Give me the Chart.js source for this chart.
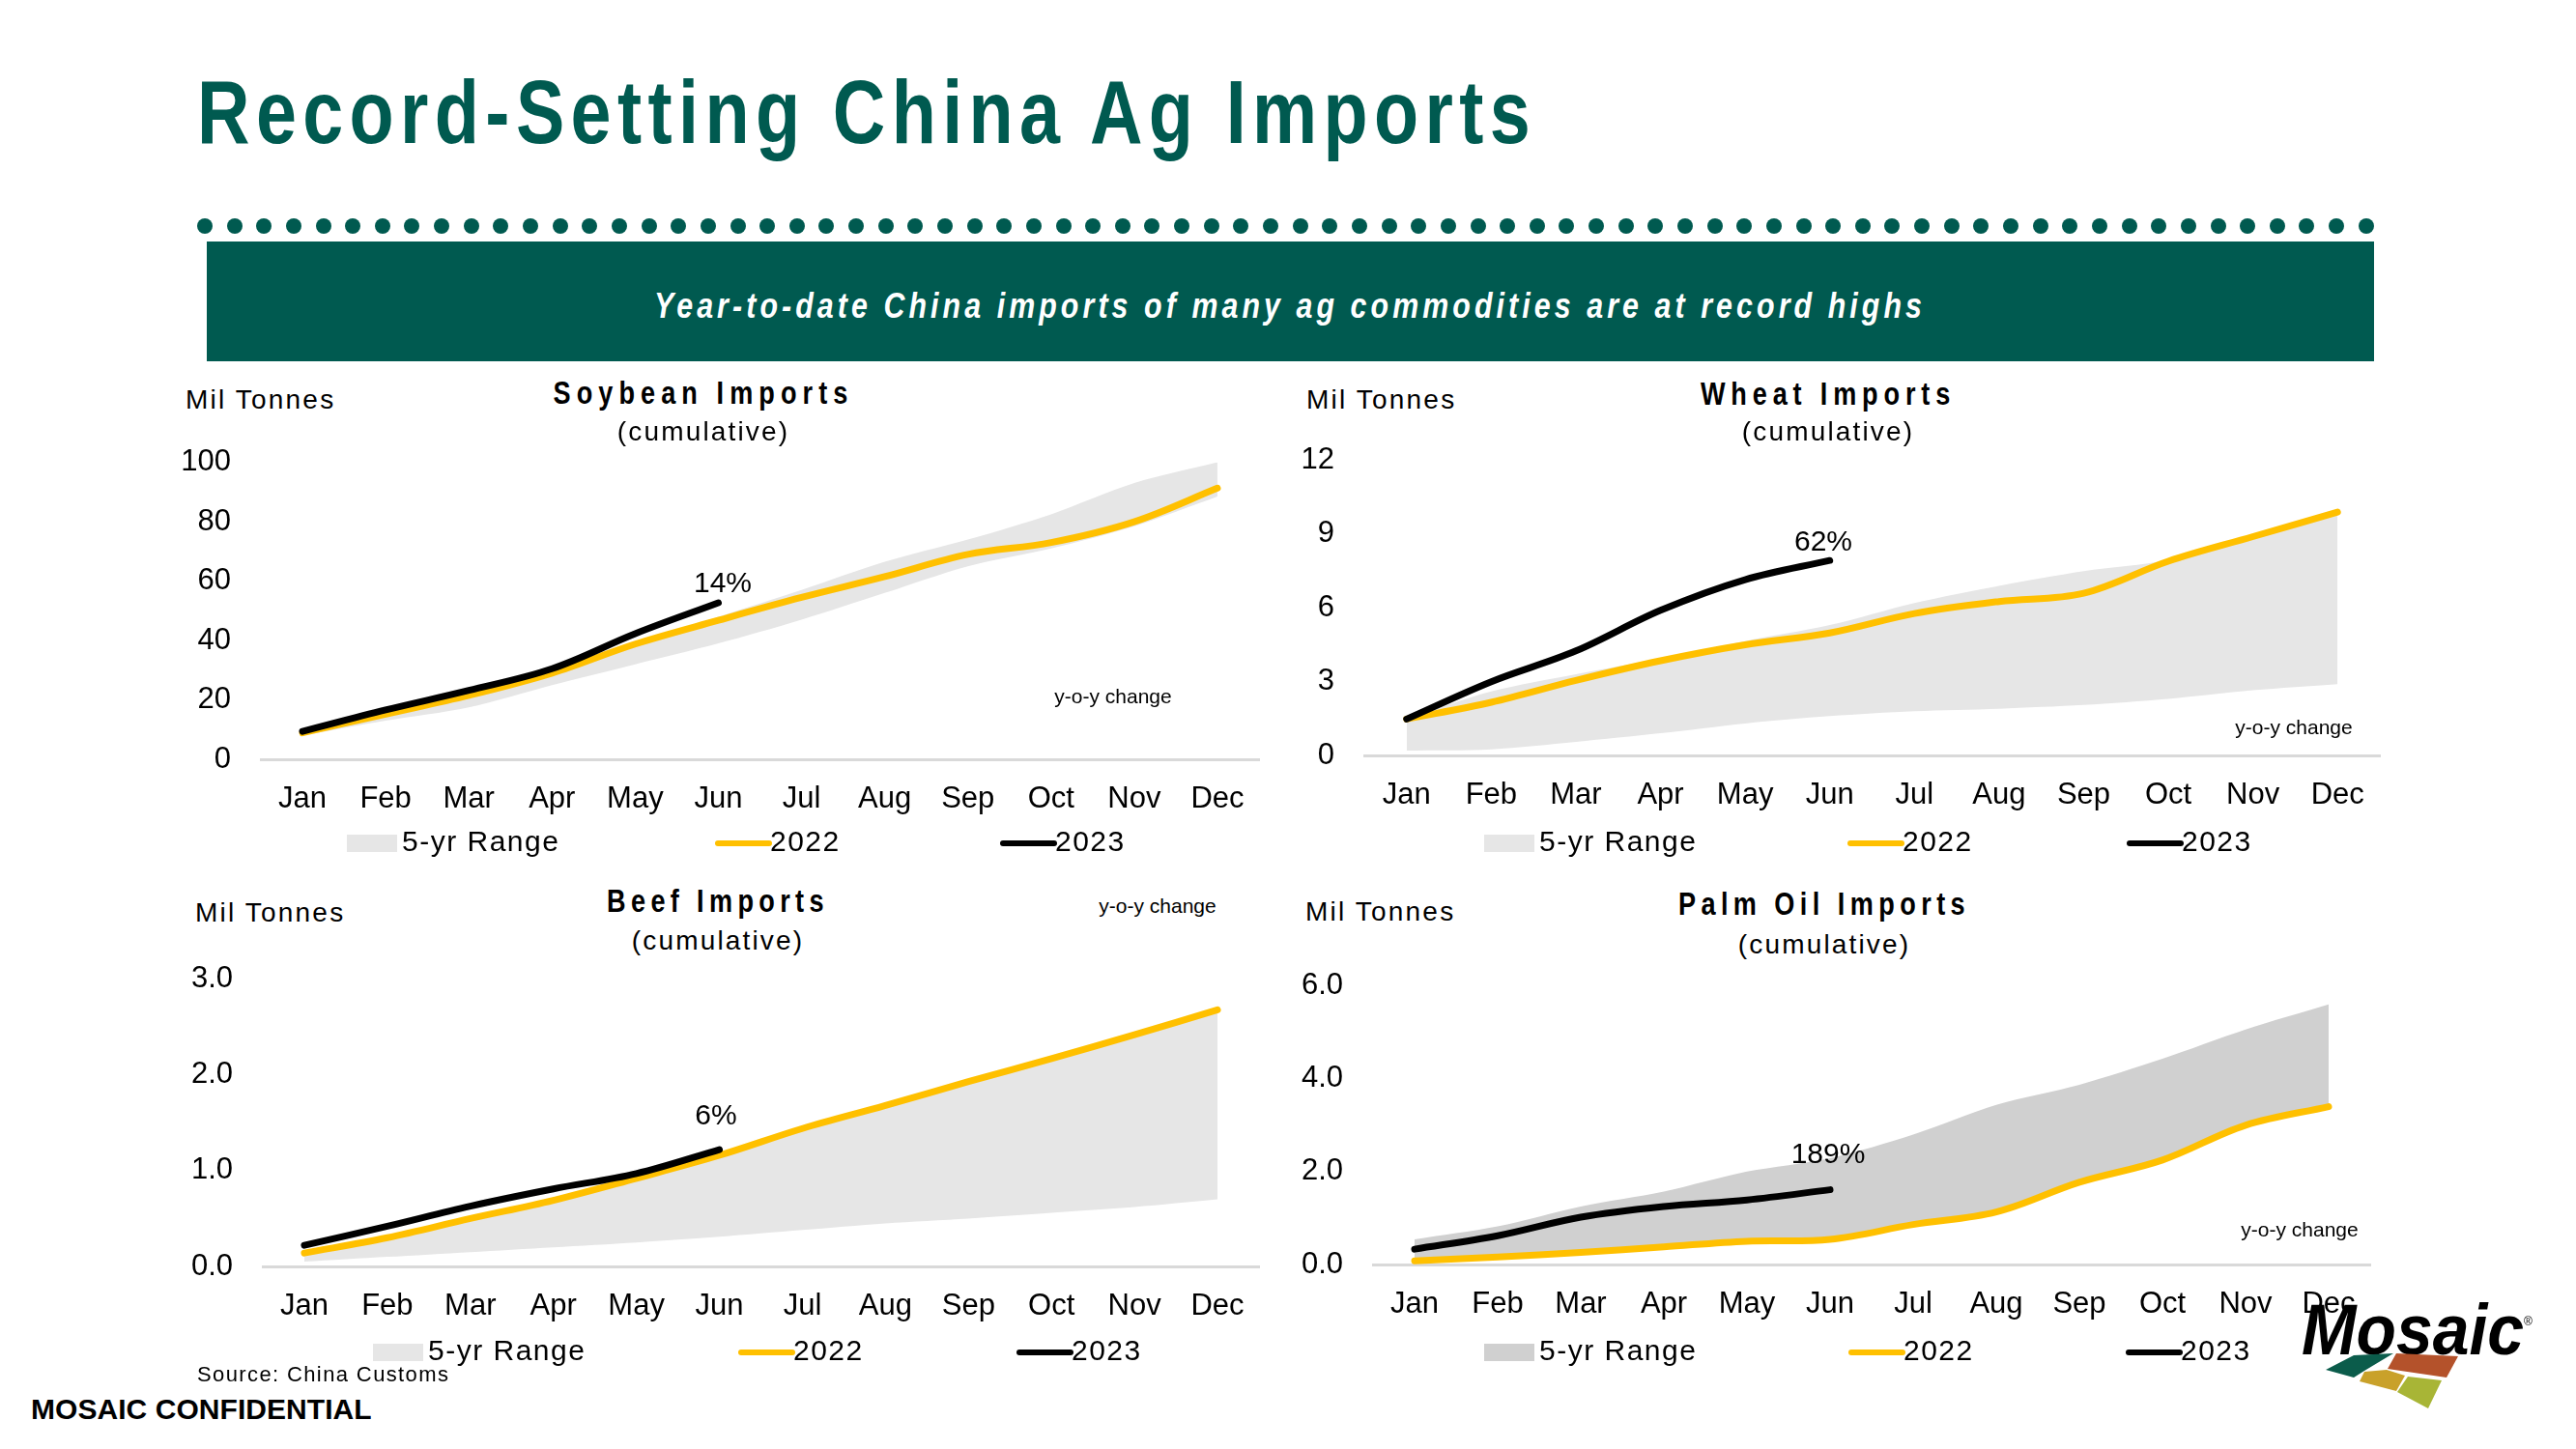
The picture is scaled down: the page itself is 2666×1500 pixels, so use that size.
<!DOCTYPE html>
<html>
<head>
<meta charset="utf-8">
<script src="https://cdn.jsdelivr.net/npm/chart.js@4.4.0/dist/chart.umd.min.js"></script>
<style>
html, body { margin: 0; padding: 0; background: #fff; }
body { width: 2666px; height: 1500px; position: relative; overflow: hidden;
       font-family: "Liberation Sans", Arial, sans-serif; color: #000; }
.t { position: absolute; white-space: nowrap; line-height: 1; z-index: 2; }
.c { transform: translate(-50%, -50%); }
.l { transform: translateY(-50%); }
.cn { transform: translate(-50%, -50%) scaleX(0.82); }
.h { font-weight: bold; font-size: 33px; }
.sub { font-size: 28px; }
.unit { font-size: 28px; }
.pct { font-size: 30px; }
.yoy { font-size: 21px; }
canvas { position: absolute; z-index: 1; }
#title { left: 204px; top: 64px; font: bold 92px "Liberation Sans", Arial, sans-serif; color: #005a50;
         transform-origin: 0 0; transform: scaleX(0.82); }
#banner { position: absolute; left: 214px; top: 250px; width: 2243px; height: 124px; background: #005a50; }
#bannerText { left: 1335px; top: 317px; font: italic bold 37px "Liberation Sans", Arial, sans-serif; color: #fff; }
.dot { position: absolute; width: 16px; height: 16px; border-radius: 50%; background: #005a50; }
</style>
</head>
<body>

<div id="title" class="t" data-w="1386" data-s="0.82">Record-Setting China Ag Imports</div>
<div id="dots"></div>
<div id="banner"></div>
<div id="bannerText" class="t cn" data-w="1316" data-s="0.82">Year-to-date China imports of many ag commodities are at record highs</div>

<!-- soybean -->
<div class="t l unit" style="left:192px;top:414px" data-w="155">Mil Tonnes</div>
<div class="t cn h" style="left:728px;top:406px" data-w="311" data-s="0.82">Soybean Imports</div>
<div class="t c sub" style="left:728px;top:447px" data-w="178">(cumulative)</div>
<div class="t c pct" style="left:748px;top:603px">14%</div>
<div class="t c yoy" style="left:1152px;top:720px">y-o-y change</div>
<canvas id="soy" width="1200" height="440" style="left:150px;top:460px"></canvas>

<!-- wheat -->
<div class="t l unit" style="left:1352px;top:414px" data-w="155">Mil Tonnes</div>
<div class="t cn h" style="left:1892px;top:407px" data-w="264" data-s="0.82">Wheat Imports</div>
<div class="t c sub" style="left:1892px;top:447px" data-w="178">(cumulative)</div>
<div class="t c pct" style="left:1887px;top:560px">62%</div>
<div class="t c yoy" style="left:2374px;top:752px">y-o-y change</div>
<canvas id="wheat" width="1200" height="440" style="left:1292px;top:458px"></canvas>

<!-- beef -->
<div class="t l unit" style="left:202px;top:945px" data-w="155">Mil Tonnes</div>
<div class="t cn h" style="left:743px;top:932px" data-w="230" data-s="0.82">Beef Imports</div>
<div class="t c sub" style="left:743px;top:974px" data-w="178">(cumulative)</div>
<div class="t c pct" style="left:741px;top:1154px">6%</div>
<div class="t c yoy" style="left:1198px;top:937px">y-o-y change</div>
<canvas id="beef" width="1200" height="430" style="left:152px;top:995px"></canvas>

<!-- palm oil -->
<div class="t l unit" style="left:1351px;top:944px" data-w="155">Mil Tonnes</div>
<div class="t cn h" style="left:1888px;top:935px" data-w="302" data-s="0.82">Palm Oil Imports</div>
<div class="t c sub" style="left:1888px;top:978px" data-w="178">(cumulative)</div>
<div class="t c pct" style="left:1892px;top:1194px">189%</div>
<div class="t c yoy" style="left:2380px;top:1272px">y-o-y change</div>
<canvas id="palm" width="1200" height="430" style="left:1301px;top:1002px"></canvas>

<div class="t l" style="left:204px;top:1423px;font-size:22px" data-w="261">Source: China Customs</div>
<div class="t l" style="left:32px;top:1459px;font-size:30px;font-weight:bold" data-w="353">MOSAIC CONFIDENTIAL</div>

<svg style="position:absolute;left:2370px;top:1330px;z-index:3" width="270" height="140" viewBox="2370 1330 270 140">
  <text x="2382" y="1402" font-family="Liberation Sans, Arial, sans-serif" font-size="74" font-weight="bold" font-style="italic" textLength="230" lengthAdjust="spacingAndGlyphs">Mosaic</text>
  <text x="2612" y="1372" font-family="Liberation Sans, Arial, sans-serif" font-size="12">®</text>
  <polygon points="2407,1418 2436,1403 2477,1401 2447,1419 2436,1426" fill="#0b5c4b"/>
  <polygon points="2480,1401 2544,1404 2532,1426 2471,1417" fill="#b4522b"/>
  <polygon points="2447,1420 2470,1418 2489,1424 2480,1440 2442,1430" fill="#c9a12a"/>
  <polygon points="2492,1425 2527,1429 2513,1458 2481,1441" fill="#a8b536"/>
</svg>

<script>
const months = ['Jan', 'Feb', 'Mar', 'Apr', 'May', 'Jun', 'Jul', 'Aug', 'Sep', 'Oct', 'Nov', 'Dec'];

// Soybean, mil tonnes cumulative
const soyRangeHigh = [10, 16.5, 22.5, 29.5, 39, 48, 57, 66.5, 74, 82.5, 93, 100];
const soyRangeLow = [8, 13, 17.5, 25, 32, 39, 47, 56, 65, 71, 78.5, 88.5];
const soy2022 = [8.9, 15.2, 21.5, 29, 38.8, 46.8, 54.5, 61.5, 69, 73, 80, 91.3];
const soy2023 = [9.4, 16.6, 23.2, 30.5, 42.3, 52.7];
const soyTicks = [0, 20, 40, 60, 80, 100];
const soyTickLabels = ['0', '20', '40', '60', '80', '100'];

// Wheat
const wheatRangeHigh = [1.5, 2.6, 3.3, 3.95, 4.65, 5.3, 6.2, 6.9, 7.5, 7.95, 8.9, 9.9];
const wheatRangeLow = [0.2, 0.25, 0.55, 0.9, 1.3, 1.6, 1.8, 1.9, 2.05, 2.3, 2.65, 2.9];
const wheat2022 = [1.48, 2.16, 3.05, 3.85, 4.5, 4.98, 5.77, 6.26, 6.6, 7.9, 8.9, 9.9];
const wheat2023 = [1.48, 3.0, 4.25, 5.9, 7.15, 7.93];
const wheatTicks = [0, 3, 6, 9, 12];
const wheatTickLabels = ['0', '3', '6', '9', '12'];

// Beef
const beefRangeHigh = [0.16, 0.32, 0.52, 0.72, 0.94, 1.17, 1.44, 1.68, 1.93, 2.17, 2.42, 2.67];
const beefRangeLow = [0.05, 0.1, 0.15, 0.2, 0.25, 0.31, 0.38, 0.45, 0.5, 0.56, 0.62, 0.7];
const beef2022 = [0.14, 0.3, 0.5, 0.69, 0.92, 1.16, 1.44, 1.68, 1.93, 2.17, 2.42, 2.68];
const beef2023 = [0.22, 0.42, 0.63, 0.81, 0.97, 1.22];
const beefTicks = [0, 1, 2, 3];
const beefTickLabels = ['0.0', '1.0', '2.0', '3.0'];

// Palm oil
const palmRangeHigh = [0.54, 0.82, 1.25, 1.57, 2.0, 2.29, 2.8, 3.44, 3.87, 4.43, 5.06, 5.6];
const palmRangeLow = [0.08, 0.16, 0.26, 0.38, 0.5, 0.54, 0.86, 1.13, 1.77, 2.25, 3.0, 3.4];
const palm2022 = [0.08, 0.16, 0.26, 0.38, 0.5, 0.54, 0.86, 1.13, 1.77, 2.25, 3.0, 3.4];
const palm2023 = [0.33, 0.62, 1.02, 1.25, 1.39, 1.61];
const palmTicks = [0, 2, 4, 6];
const palmTickLabels = ['0.0', '2.0', '4.0', '6.0'];

Chart.defaults.font.family = '"Liberation Sans", Arial, sans-serif';
Chart.defaults.color = '#000';

// legend drawn as one row under the month labels
const legendRow = {
    id: 'legendRow',
    afterDraw(chart, args, opts) {
        const { ctx, chartArea } = chart;
        const y = chartArea.bottom + opts.dy;
        const items = chart.data.datasets.filter(d => d.legendType);
        ctx.save();
        ctx.font = '30px "Liberation Sans", Arial, sans-serif';
        ctx.letterSpacing = '1.5px';
        ctx.textBaseline = 'middle';
        items.forEach((d, i) => {
            const x = chartArea.left + opts.xs[i];
            if (d.legendType === 'box') {
                ctx.fillStyle = d.backgroundColor;
                ctx.fillRect(x, y - 9, 52, 18);
            } else {
                ctx.strokeStyle = d.borderColor;
                ctx.lineWidth = 6;
                ctx.lineCap = 'round';
                ctx.beginPath();
                ctx.moveTo(x + 3, y);
                ctx.lineTo(x + 56, y);
                ctx.stroke();
            }
            ctx.fillStyle = '#000';
            ctx.fillText(d.label, x + 57, y);
        });
        ctx.restore();
    }
};

function makeChart(id, cfg) {
    return new Chart(document.getElementById(id), {
        type: 'line',
        data: {
            labels: months,
            datasets: [
                { label: '5-yr Range', data: cfg.high, fill: '+1', backgroundColor: cfg.band, borderWidth: 0,
                  pointRadius: 0, tension: 0.3, order: 3, legendType: 'box' },
                { label: 'low', data: cfg.low, fill: false, borderWidth: 0, pointRadius: 0, tension: 0.3, order: 3 },
                { label: '2022', data: cfg.y2022, borderColor: '#ffc000', borderWidth: 7, pointRadius: 0,
                  tension: 0.35, fill: false, borderCapStyle: 'round', order: 2, legendType: 'line' },
                { label: '2023', data: cfg.y2023, borderColor: '#000000', borderWidth: 7, pointRadius: 0,
                  tension: 0.35, fill: false, borderCapStyle: 'round', order: 1, legendType: 'line' }
            ]
        },
        options: {
            responsive: false,
            animation: false,
            devicePixelRatio: 1,
            layout: { padding: { left: 0, right: cfg.padRight, top: 18, bottom: 0 } },
            plugins: {
                legend: { display: false },
                tooltip: { enabled: false },
                legendRow: { dy: cfg.legendDy, xs: cfg.legendXs }
            },
            scales: {
                x: {
                    offset: true,
                    grid: { display: false },
                    border: { display: true, color: '#d9d9d9', width: 3 },
                    ticks: { padding: 15, font: { size: 31 }, maxRotation: 0, autoSkip: false },
                    afterFit(s) { s.height = cfg.xh; }
                },
                y: {
                    min: 0,
                    max: cfg.ticks[cfg.ticks.length - 1],
                    // invisible tick marks give the label gap without padding the top of the chart area
                    grid: { display: true, drawOnChartArea: false, drawTicks: true, tickLength: 31, tickColor: 'rgba(0,0,0,0)' },
                    border: { display: false },
                    ticks: { padding: 0, font: { size: 31 }, callback: (v, i) => cfg.tickLabels[i] },
                    afterBuildTicks(s) { s.ticks = cfg.ticks.map(v => ({ value: v })); },
                    afterFit(s) { s.width = 120; }
                }
            }
        },
        plugins: [legendRow]
    });
}

function fitText() {
    document.querySelectorAll('[data-w]').forEach(el => {
        el.style.letterSpacing = '0px';
        const s = +(el.dataset.s || 1);
        const nat = el.offsetWidth;
        const n = el.textContent.length;
        el.style.letterSpacing = ((+el.dataset.w / s - nat) / n) + 'px';
    });
}

const dots = document.getElementById('dots');
for (let i = 0; i < 74; i++) {
    const d = document.createElement('div');
    d.className = 'dot';
    d.style.left = (204 + i * 30.64) + 'px';
    d.style.top = '226px';
    dots.appendChild(d);
}

fitText();

makeChart('soy', { high: soyRangeHigh, low: soyRangeLow, y2022: soy2022, y2023: soy2023,
    ticks: soyTicks, tickLabels: soyTickLabels, band: '#e6e6e6',
    padRight: 47, xh: 114, legendDy: 87, legendXs: [89, 470, 765] });
makeChart('wheat', { high: wheatRangeHigh, low: wheatRangeLow, y2022: wheat2022, y2023: wheat2023,
    ticks: wheatTicks, tickLabels: wheatTickLabels, band: '#e6e6e6',
    padRight: 29, xh: 116, legendDy: 91, legendXs: [124, 500, 789] });
makeChart('beef', { high: beefRangeHigh, low: beefRangeLow, y2022: beef2022, y2023: beef2023,
    ticks: beefTicks, tickLabels: beefTickLabels, band: '#e6e6e6',
    padRight: 49, xh: 114, legendDy: 89, legendXs: [114, 492, 780] });
makeChart('palm', { high: palmRangeHigh, low: palmRangeLow, y2022: palm2022, y2023: palm2023,
    ticks: palmTicks, tickLabels: palmTickLabels, band: '#d0d0d0',
    padRight: 48, xh: 123, legendDy: 91, legendXs: [115, 492, 779] });
</script>
</body>
</html>
